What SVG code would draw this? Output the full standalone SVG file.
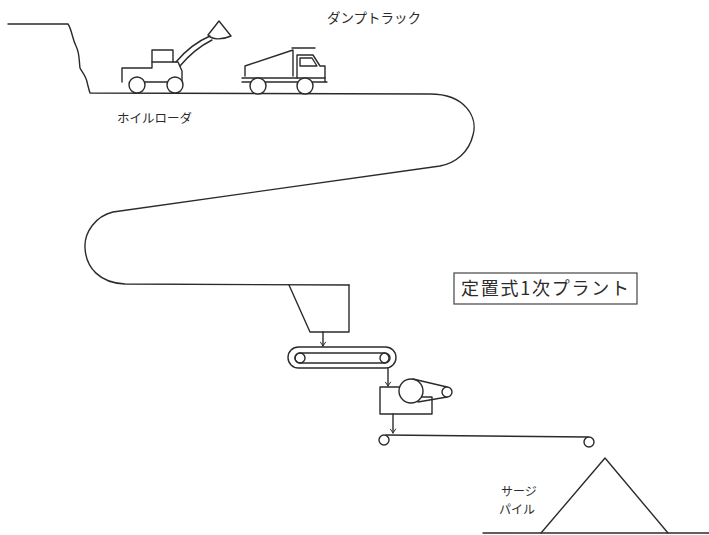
<svg xmlns="http://www.w3.org/2000/svg" width="709" height="535" viewBox="0 0 709 535">
  <style>
    .ln { fill: none; stroke: #2b2b2b; stroke-width: 1.4; stroke-linejoin: round; stroke-linecap: round; }
    .fw { fill: #fff; stroke: #2b2b2b; stroke-width: 1.4; stroke-linejoin: round; }
    .lbl { font-family: "Noto Sans CJK JP", sans-serif; fill: #2b2b2b; }
  </style>
  <defs>
    <marker id="tip" viewBox="0 0 10 10" refX="9" refY="5" markerWidth="7" markerHeight="7" orient="auto" markerUnits="userSpaceOnUse">
      <path d="M3,1 L9,5 L3,9" fill="none" stroke="#2b2b2b" stroke-width="1.4"/>
    </marker>
  </defs>
  <rect width="709" height="535" fill="#fff"/>

  <!-- quarry face and haul road -->
  <g id="haul-road">
    <path class="ln" d="M8,24 H68 C72,30 72,38 76,46 C80,54 79,62 80,68 C82,72 86,76 87,82 C88,86 89,90 90,93 L430,94 C466,94 478,118 473,135 C469,152 456,163 440,166 L113,212 C96,216 84,232 85,248 C86,268 100,283 125,284 L349,285"/>
  </g>

  <!-- wheel loader -->
  <g id="wheel-loader">
    <path class="ln" d="M122,82 V68 H152 V50 H173 V62 H178 L182,71 V82"/>
    <line class="ln" x1="152" y1="62" x2="173" y2="62"/>
    <line class="ln" x1="145" y1="82" x2="167" y2="82"/>
    <path class="ln" d="M176,62 C186,50 196,42 210,36"/>
    <path class="ln" d="M180,66 C190,54 200,46 212,40"/>
    <path class="ln" d="M219,21 L208,35 C212,40 222,40 231,36 Z"/>
    <circle class="fw" cx="137" cy="85" r="8"/>
    <circle class="fw" cx="175" cy="85" r="8"/>
  </g>

  <!-- dump truck -->
  <g id="dump-truck">
    <path class="ln" d="M245,76 V66 L293,50 V76"/>
    <line class="ln" x1="292" y1="48" x2="315" y2="48"/>
    <path class="ln" d="M297,78 V55 H313 L320,66 H325 V82"/>
    <path class="ln" d="M300,66 V58 H312 L317,66 Z"/>
    <line class="ln" x1="242" y1="78" x2="325" y2="78"/>
    <line class="ln" x1="242" y1="82" x2="327" y2="82"/>
    <circle class="fw" cx="258" cy="86" r="8"/>
    <circle class="fw" cx="305" cy="86" r="8"/>
  </g>

  <!-- feed hopper -->
  <g id="hopper">
    <path class="ln" d="M289,285 L310,332 H349 V285"/>
  </g>

  <!-- belt feeder -->
  <g id="belt-conveyor">
    <rect class="ln" x="288" y="347" width="108" height="21" rx="10.5"/>
    <rect class="ln" x="295" y="353" width="94" height="10" rx="5"/>
    <circle class="ln" cx="300" cy="358" r="5"/>
    <circle class="ln" cx="385" cy="358" r="5"/>
  </g>

  <!-- primary crusher with drive -->
  <g id="crusher">
    <path class="ln" d="M400,387 H380 V414 H432 V397 H421"/>
    <circle class="fw" cx="411" cy="391" r="12"/>
    <line class="ln" x1="413" y1="379" x2="447" y2="387"/>
    <line class="ln" x1="418" y1="402" x2="447" y2="397"/>
    <circle class="fw" cx="447" cy="392" r="5"/>
  </g>

  <!-- stacking conveyor -->
  <g id="stacker">
    <line class="ln" x1="386" y1="435" x2="588" y2="437"/>
    <circle class="fw" cx="384" cy="440" r="5"/>
    <circle class="fw" cx="589" cy="442" r="5"/>
  </g>

  <!-- surge pile -->
  <g id="surge-pile">
    <path class="ln" d="M541,533 L605,458 L668,533"/>
    <line class="ln" x1="483" y1="533" x2="709" y2="533"/>
  </g>

  <!-- material flow arrows -->
  <g id="connectors">
    <line class="ln" x1="323" y1="332" x2="323" y2="346" marker-end="url(#tip)"/>
    <line class="ln" x1="388" y1="368" x2="388" y2="386" marker-end="url(#tip)"/>
    <line class="ln" x1="393" y1="414" x2="393" y2="433" marker-end="url(#tip)"/>
  </g>

  <!-- labels -->
  <g id="labels">
    <text class="lbl" x="327" y="23" font-size="13.5">ダンプトラック</text>
    <text class="lbl" x="117" y="123" font-size="12.5">ホイルローダ</text>
    <g id="plant-label">
      <rect x="454" y="273" width="183" height="31" fill="none" stroke="#444" stroke-width="1.2"/>
      <text class="lbl" x="461" y="295" font-size="18" textLength="168" lengthAdjust="spacing">定置式1次プラント</text>
    </g>
    <text class="lbl" x="501" y="496" font-size="12">サージ</text>
    <text class="lbl" x="499" y="514" font-size="12">パイル</text>
  </g>
</svg>
